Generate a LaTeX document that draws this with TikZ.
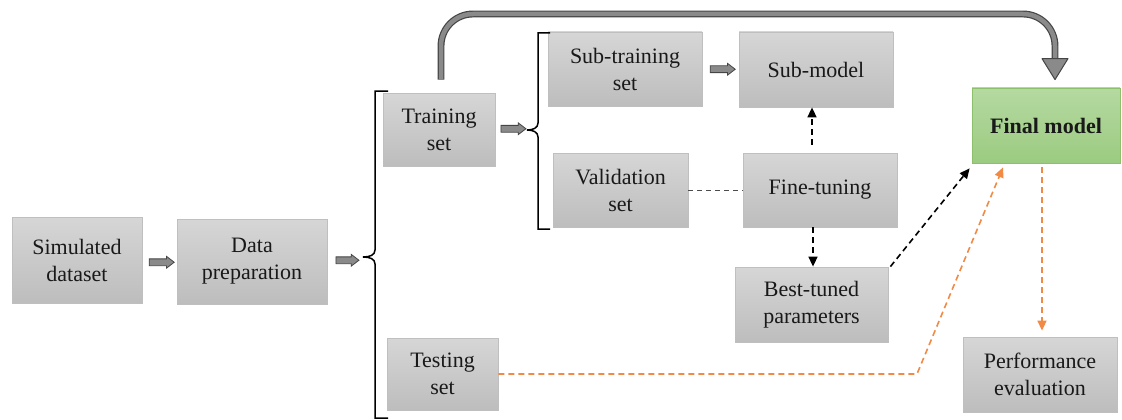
\documentclass[tikz,border=0pt]{standalone}
\usepackage{fontspec}
\setmainfont{Liberation Serif}
\usetikzlibrary{shapes.arrows,arrows.meta,calc}
\definecolor{boxtop}{HTML}{D6D6D6}
\definecolor{boxbot}{HTML}{BDBDBD}
\definecolor{boxline}{HTML}{BFBFBF}
\definecolor{greentop}{HTML}{B5D9A2}
\definecolor{greenbot}{HTML}{9BCB80}
\definecolor{greenline}{HTML}{8CC06C}
\definecolor{flowgray}{HTML}{8A8A8A}
\definecolor{flowedge}{HTML}{454545}
\definecolor{orangeflow}{HTML}{F08A45}
\begin{document}
\begin{tikzpicture}[x=1pt,y=-1pt,
  font=\fontsize{22}{27}\selectfont,
  box/.style={rectangle,draw=boxline,line width=0.8pt,top color=boxtop,bottom color=boxbot,
    align=center,text=black!90,inner sep=0pt},
  finalbox/.style={box,draw=greenline,top color=greentop,bottom color=greenbot,font=\fontsize{22}{27}\selectfont\bfseries},
  blockarrow/.style={single arrow,draw=flowedge,fill=flowgray,line width=0.8pt,
    inner xsep=0pt,inner ysep=3pt,text height=0pt,text depth=0pt,
    minimum width=11pt,single arrow head extend=2.5pt,single arrow tip angle=75,minimum height=25pt},
  brace/.style={draw=black,line width=1.5pt},
  blackdash/.style={draw=black,line width=1.6pt,dash pattern=on 6pt off 4pt,
    -{Triangle[length=10pt,width=9pt]}},
  orangedash/.style={draw=orangeflow,line width=1.6pt,dash pattern=on 6pt off 4pt,
    -{Triangle[length=10pt,width=9pt]}},
  thindash/.style={draw=black!70,line width=0.9pt,dash pattern=on 5pt off 4pt},
]
\useasboundingbox (0,0) rectangle (1122,420);

% boxes
\node[box,minimum width=130pt,minimum height=86pt] (sim) at (77,260) {Simulated\\dataset};
\node[box,minimum width=150pt,minimum height=85pt] (prep) at (252,261.5) {Data\\preparation};
\node[box,minimum width=112pt,minimum height=73pt] (train) at (439,129.5) {Training\\set};
\node[box,minimum width=111pt,minimum height=72pt] (test) at (442.5,374) {Testing\\set};
\node[box,minimum width=154pt,minimum height=74pt] (subtrain) at (625,69) {Sub-training\\set};
\node[box,minimum width=135pt,minimum height=74pt] (valid) at (620.5,190) {Validation\\set};
\node[box,minimum width=154pt,minimum height=75pt] (submodel) at (816,69.5) {Sub-model};
\node[box,minimum width=154pt,minimum height=74pt] (finetune) at (820,190) {Fine-tuning};
\node[box,minimum width=153pt,minimum height=75pt] (best) at (811.5,304.5) {Best-tuned\\parameters};
\node[finalbox,minimum width=148pt,minimum height=75pt] (final) at (1046,125.5) {Final model};
\node[box,minimum width=154pt,minimum height=75pt] (perf) at (1040,374.5) {Performance\\evaluation};

% split brackets
\coordinate (splitA) at (363,257);
\coordinate (splitB) at (527,130);
\draw[brace] (388,91) -- (375,91) -- (375,250)
  .. controls (375,255) and (370,257) .. (splitA)
  .. controls (370,257) and (375,259) .. (375,264) -- (375,418) -- (388,418);
\draw[brace] (550,33) -- (538,33) -- (538,123)
  .. controls (538,128) and (533,130) .. (splitB)
  .. controls (533,130) and (538,132) .. (538,137) -- (538,229) -- (550,229);

% block arrows
\node[blockarrow] (a1) at ($(sim.east)!0.5!(prep.west)+(0,1.5)$) {};
\node[blockarrow,minimum height=23pt] (a2) at ($(prep.east)!0.5!(splitA)+(0,1)$) {};
\node[blockarrow] (a3) at ($(train.east)!0.5!(splitB)+(0,-1)$) {};
\node[blockarrow] (a4) at ($(subtrain.east)!0.5!(submodel.west)$) {};

% bypass arrow from training set to final model
\coordinate (bypassStart) at ($(train.north)+(2,-13)$);
\coordinate (bypassTip) at ($(final.north)+(9,-8)$);
\coordinate (bypassEnd) at ($(bypassTip)+(0,-21)$);
\draw[rounded corners=32pt,draw=flowedge,line width=1.2pt,double=flowgray,double distance=4.5pt]
  (bypassStart) |- (bypassEnd |- 0,14) -- (bypassEnd);
\draw[draw=flowedge,fill=flowgray,line width=1pt,line join=round]
  ($(bypassEnd)+(-13,0)$) -- ($(bypassEnd)+(13,0)$) -- (bypassTip) -- cycle;

% tuning loop
\draw[thindash] (valid.east) -- (finetune.west);
\draw[blackdash] ($(finetune.north)+(-8,-8)$) -- ($(submodel.south)+(-4,0)$);
\draw[blackdash] ($(finetune.south)+(-7,0)$) -- ($(best.north)+(1.5,0)$);
\draw[blackdash] ($(best.north east)+(2,0)$) -- ($(final.south west)+(-2,5)$);

% testing path and evaluation
\draw[orangedash] (test.east) -- (917,374) -- ($(final.south)+(-43,4)$);
\draw[orangedash] ($(final.south)+(-4,4)$) -- ($(perf.north)+(2,-6)$);
\end{tikzpicture}
\end{document}
